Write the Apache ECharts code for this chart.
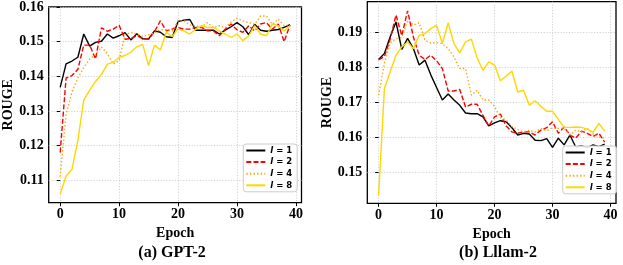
<!DOCTYPE html>
<html><head><meta charset="utf-8">
<script src="https://cdn.jsdelivr.net/npm/echarts@6/dist/echarts.min.js"></script>
<style>html,body{margin:0;padding:0;background:#fff}#c{width:623px;height:265px}</style>
</head><body><div id="c"></div>
<script>
const epochs = [0,1,2,3,4,5,6,7,8,9,10,11,12,13,14,15,16,17,18,19,20,21,22,23,24,25,26,27,28,29,30,31,32,33,34,35,36,37,38,39];
const seriesNames = ['l = 1','l = 2','l = 4','l = 8'];
const xTicks = [0,10,20,30,40];
const yTicksGpt = [0.11,0.12,0.13,0.14,0.15,0.16];
const yTicksLlama = [0.15,0.16,0.17,0.18,0.19];

// (a) GPT-2
const gptL1 = [0.1368,0.1436,0.1444,0.1455,0.1522,0.1487,0.1498,0.1501,0.1522,0.1510,0.1517,0.1526,0.1505,0.1523,0.1508,0.1508,0.1531,0.1527,0.1514,0.1512,0.1558,0.1562,0.1564,0.1533,0.1533,0.1533,0.1533,0.1522,0.1533,0.1543,0.1555,0.1543,0.1520,0.1550,0.1533,0.1530,0.1533,0.1535,0.1541,0.1549];
const gptL2 = [0.1180,0.1395,0.1402,0.1420,0.1490,0.1490,0.1450,0.1540,0.1530,0.1536,0.1547,0.1507,0.1509,0.1517,0.1509,0.1507,0.1529,0.1560,0.1531,0.1536,0.1541,0.1536,0.1536,0.1541,0.1541,0.1531,0.1531,0.1517,0.1536,0.1551,0.1534,0.1527,0.1546,0.1531,0.1551,0.1555,0.1536,0.1551,0.1500,0.1548];
const gptL4 = [0.1110,0.1290,0.1355,0.1395,0.1425,0.1450,0.1462,0.1485,0.1465,0.1435,0.1445,0.1520,0.1527,0.1522,0.1515,0.1520,0.1525,0.1535,0.1533,0.1530,0.1560,0.1560,0.1548,0.1546,0.1543,0.1555,0.1540,0.1546,0.1540,0.1557,0.1568,0.1560,0.1555,0.1550,0.1574,0.1574,0.1550,0.1565,0.1546,0.1549];
const gptL8 = [0.1060,0.1112,0.1131,0.1215,0.1331,0.1360,0.1385,0.1405,0.1435,0.1440,0.1455,0.1460,0.1470,0.1485,0.1492,0.1431,0.1490,0.1476,0.1527,0.1515,0.1536,0.1531,0.1522,0.1536,0.1546,0.1541,0.1541,0.1531,0.1522,0.1512,0.1522,0.1503,0.1517,0.1546,0.1522,0.1517,0.1551,0.1546,0.1531,0.1546];

// (b) Lllam-2
const llamaL1 = [0.1822,0.1839,0.1887,0.1929,0.1851,0.1882,0.1853,0.1806,0.1820,0.1778,0.1742,0.1706,0.1723,0.1706,0.1691,0.1669,0.1667,0.1667,0.1658,0.1632,0.1641,0.1647,0.1644,0.1627,0.1606,0.1611,0.1609,0.1591,0.1590,0.1596,0.1571,0.1597,0.1578,0.1606,0.1572,0.1575,0.1570,0.1578,0.1573,0.1580];
const llamaL2 = [0.1821,0.1830,0.1880,0.1949,0.1890,0.1961,0.1886,0.1834,0.1822,0.1834,0.1818,0.1796,0.1732,0.1732,0.1736,0.1686,0.1694,0.1694,0.1662,0.1632,0.1658,0.1666,0.1632,0.1615,0.1611,0.1615,0.1615,0.1606,0.1620,0.1627,0.1644,0.1611,0.1629,0.1606,0.1597,0.1617,0.1611,0.1602,0.1611,0.1586];
const llamaL4 = [0.1720,0.1811,0.1870,0.1881,0.1885,0.1934,0.1920,0.1927,0.1877,0.1869,0.1870,0.1867,0.1853,0.1829,0.1796,0.1796,0.1720,0.1734,0.1706,0.1706,0.1687,0.1656,0.1649,0.1630,0.1622,0.1615,0.1620,0.1615,0.1625,0.1618,0.1627,0.1625,0.1625,0.1606,0.1620,0.1615,0.1625,0.1609,0.1601,0.1596];
const llamaL8 = [0.1434,0.1739,0.1787,0.1834,0.1858,0.1872,0.1853,0.1891,0.1896,0.1910,0.1920,0.1867,0.1927,0.1867,0.1841,0.1872,0.1880,0.1826,0.1791,0.1815,0.1806,0.1761,0.1774,0.1789,0.1729,0.1734,0.1691,0.1704,0.1688,0.1674,0.1674,0.1651,0.1628,0.1628,0.1629,0.1628,0.1623,0.1614,0.1639,0.1617];

const styles = [
  {color:'#000000', type:'solid', width:1.4},
  {color:'#ff0000', type:[5,2.2], width:1.4},
  {color:'#ffa500', type:[1.4,2.2], width:1.4},
  {color:'#ffd700', type:'solid', width:1.4}
];
const serif = 'Liberation Serif';
const tickFont = {fontFamily: serif, fontWeight:'bold', fontSize:14, color:'#000'};

function pairs(vals){ return epochs.map((e,i)=>[e, vals[i]]); }
function mkSeries(vals, k, gi){
  return {type:'line', name: seriesNames[k], xAxisIndex: gi, yAxisIndex: gi, data: pairs(vals),
    symbol:'none', showSymbol:false, lineStyle: styles[k], itemStyle:{color: styles[k].color},
    emphasis:{disabled:true}, z: 2+k};
}
function xAx(gi){
  return {gridIndex: gi, type:'value', min:-1.95, max:40.95,
    axisLine:{show:false},
    axisTick:{show:true, inside:false, length:3.5, customValues:xTicks, lineStyle:{color:'#000', width:1}},
    axisLabel:{customValues:xTicks, margin:5, ...tickFont},
    splitLine:{show:true, lineStyle:{color:'#c8c8c8', type:[1.2,1.6], width:0.8}},
    name:'Epoch', nameLocation:'middle', nameGap:18,
    nameTextStyle:{fontFamily: serif, fontWeight:'bold', fontSize:14, color:'#000', verticalAlign:'top'}
  };
}
function yAx(gi, min, max, ticks){
  return {gridIndex: gi, type:'value', min:min, max:max,
    axisLine:{show:false},
    axisTick:{show:true, inside:false, length:3.5, customValues:ticks, lineStyle:{color:'#000', width:1}},
    axisLabel:{customValues:ticks, margin:5, formatter: v => v.toFixed(2), ...tickFont},
    splitLine:{show:true, lineStyle:{color:'#c8c8c8', type:[1.2,1.6], width:0.8}},
    name:'ROUGE', nameLocation:'middle', nameGap:28, nameRotate:90,
    nameTextStyle:{fontFamily: serif, fontWeight:'bold', fontSize:14, color:'#000'}
  };
}
function legendAt(left, top){
  return {orient:'vertical', left:left, top:top, data: seriesNames,
    itemWidth:19, itemHeight:10, itemGap:2.6, padding:[2,5,2,2],
    backgroundColor:'rgba(255,255,255,0.85)', borderColor:'#cccccc', borderWidth:1, borderRadius:3,
    selectedMode:false,
    itemStyle:{opacity:0, borderWidth:0},
    formatter: n => '{i|l}{n| = ' + n.split(' = ')[1] + '}',
    textStyle:{fontSize:8.5, fontWeight:'bold', color:'#000',
      rich:{ i:{fontFamily:'DejaVu Sans', fontStyle:'italic', fontWeight:'bold', fontSize:8.5, color:'#000'},
             n:{fontFamily:'DejaVu Sans', fontWeight:'bold', fontSize:8.5, color:'#000'} } }
  };
}

const chart = echarts.init(document.getElementById('c'), null, {renderer:'canvas'});
chart.setOption({
  animation:false,
  backgroundColor:'#fff',
  grid:[
    {left:48.7, top:5.5, width:252.8, height:197.2, show:true, borderColor:'#000', borderWidth:1.3, backgroundColor:'transparent'},
    {left:367.3, top:1.7, width:248.7, height:201.6, show:true, borderColor:'#000', borderWidth:1.3, backgroundColor:'transparent'}
  ],
  xAxis:[xAx(0), xAx(1)],
  yAxis:[yAx(0, 0.1035, 0.16005, yTicksGpt), yAx(1, 0.1411, 0.1987, yTicksLlama)],
  legend:[legendAt(243.3, 144), legendAt(562.7, 146)],
  graphic:[
    {type:'text', x:172, y:253, style:{text:'(a) GPT-2', fontFamily:serif, fontWeight:'bold', fontSize:16, fill:'#000', align:'center', verticalAlign:'middle'}},
    {type:'text', x:498, y:253, style:{text:'(b) Lllam-2', fontFamily:serif, fontWeight:'bold', fontSize:16, fill:'#000', align:'center', verticalAlign:'middle'}}
  ],
  series:[
    mkSeries(gptL1,0,0), mkSeries(gptL2,1,0), mkSeries(gptL4,2,0), mkSeries(gptL8,3,0),
    mkSeries(llamaL1,0,1), mkSeries(llamaL2,1,1), mkSeries(llamaL4,2,1), mkSeries(llamaL8,3,1)
  ]
});
</script></body></html>
